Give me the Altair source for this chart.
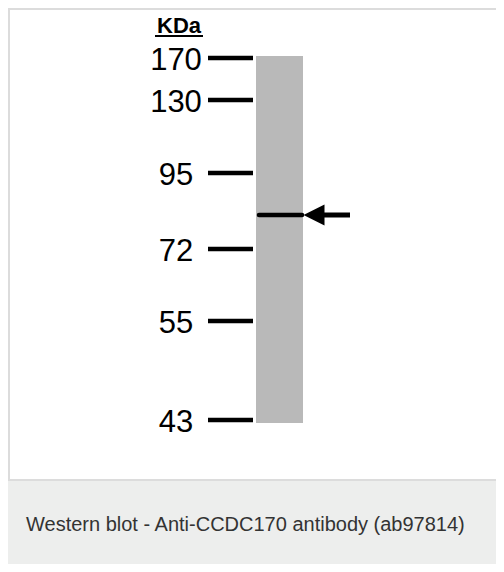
import altair as alt
import pandas as pd

# ---- data read from the blot ----
marker_labels = ["170", "130", "95", "72", "55", "43"]       # kDa ladder
marker_migration = [58, 100, 173, 249, 321, 420]              # migration (px from top)
lane_top = [56]
lane_bottom = [423]
band_names = ["CCDC170"]
band_migration = [215]
unit_label = ["KDa"]
caption = ["Western blot - Anti-CCDC170 antibody (ab97814)"]

W, H = 488, 556
Y0 = 8
FONT = "Liberation Sans"

yscale = alt.Scale(domain=[Y0, Y0 + H], reverse=True, nice=False, zero=False)
def Y(field):
    return alt.Y(field, type="quantitative", scale=yscale, axis=None)

one = pd.DataFrame({"a": [0]})
markers = pd.DataFrame({"kda": marker_labels, "mig": marker_migration})
lane = pd.DataFrame({"top": lane_top, "bottom": lane_bottom})
band = pd.DataFrame({"name": band_names, "mig": band_migration})

frame = alt.Chart(one).mark_rect(fill="white", stroke="#dcdcdc", strokeWidth=2).encode(
    x=alt.value(1), x2=alt.value(W + 10), y=alt.value(1), y2=alt.value(472))

cap_bg = alt.Chart(one).mark_rect(fill="#edeeed").encode(
    x=alt.value(0), x2=alt.value(W + 10), y=alt.value(473), y2=alt.value(H + 10))

cap_text = alt.Chart(pd.DataFrame({"t": caption})).mark_text(
    font=FONT, fontSize=20, color="#333333", align="left", baseline="alphabetic").encode(
    x=alt.value(18), y=alt.value(523), text="t:N")

lane_rect = alt.Chart(lane).mark_rect(color="#b9b9b9").encode(
    x=alt.value(248), x2=alt.value(295), y=Y("top"), y2=alt.Y2("bottom"))

ticks = alt.Chart(markers).mark_rule(color="black", strokeWidth=4.5, strokeCap="butt").encode(
    x=alt.value(200), x2=alt.value(245), y=Y("mig"))

labels = alt.Chart(markers).mark_text(
    font=FONT, fontSize=31, color="black", align="center", baseline="alphabetic", dy=12).encode(
    x=alt.value(168), y=Y("mig"), text="kda:N")

band_line = alt.Chart(band).mark_rule(color="black", strokeWidth=4.5, strokeCap="round").encode(
    x=alt.value(251), x2=alt.value(294), y=Y("mig"))

shaft = alt.Chart(band).mark_rule(color="black", strokeWidth=5, strokeCap="butt").encode(
    x=alt.value(310), x2=alt.value(342), y=Y("mig"))

head = alt.Chart(band).mark_point(
    shape="M-1,0L1,-1L1,1Z", size=440, filled=True, color="black", opacity=1).encode(
    x=alt.value(306), y=Y("mig"))

kda = alt.Chart(pd.DataFrame({"t": unit_label})).mark_text(
    font=FONT, fontSize=22, fontWeight="bold", color="black", align="center", baseline="alphabetic").encode(
    x=alt.value(171), y=alt.value(25), text="t:N")

underline = alt.Chart(one).mark_rule(color="black", strokeWidth=2).encode(
    x=alt.value(147), x2=alt.value(195), y=alt.value(28))

chart = alt.layer(
    frame, cap_bg, cap_text, lane_rect, ticks, labels, band_line, shaft, head, kda, underline
).properties(
    width=W, height=H, autosize=alt.AutoSizeParams(type="none"), padding=0
).configure_view(stroke=None)

chart.save("out.html", embed_options={"renderer": "svg", "actions": False})
